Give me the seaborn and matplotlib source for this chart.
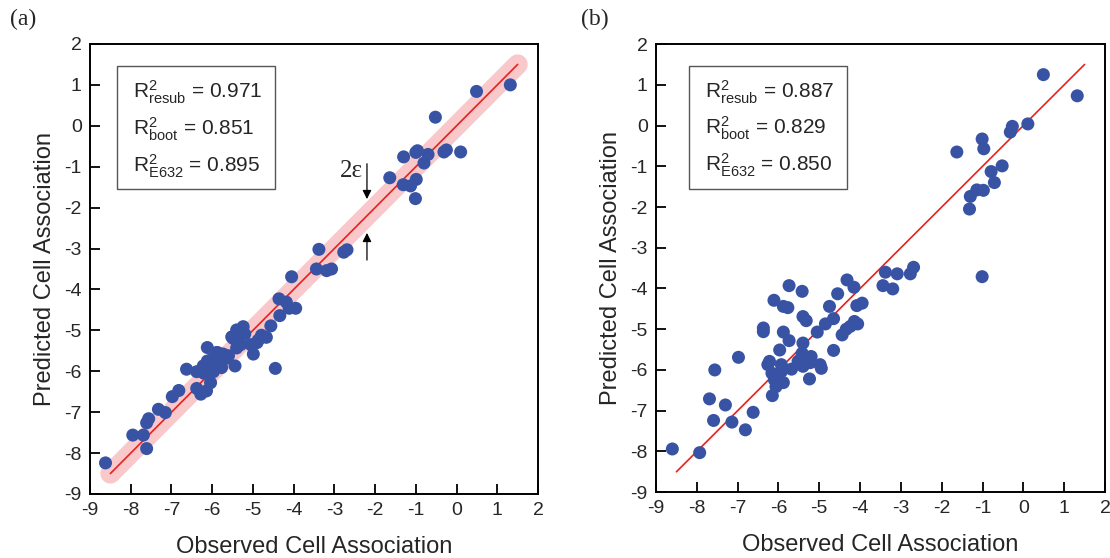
import numpy as np
import pandas as pd
import matplotlib
matplotlib.use("Agg")
import matplotlib.pyplot as plt
import seaborn as sns

# panel (a): observed vs predicted
obs_a = [-8.62, -7.95, -7.69, -7.61, -7.61, -7.56, -7.32, -7.15, -6.98, -6.82,
         -6.63, -6.38, -6.28, -6.14, -6.04, -6.38, -6.22, -6.12, -6.12, -5.97,
         -5.89, -5.77, -5.73, -5.67, -6.06, -5.44, -5.52, -5.40, -5.24, -5.20,
         -5.40, -5.30, -5.05, -4.99, -4.87, -4.79, -4.67, -4.56, -4.45, -4.34,
         -4.36, -4.18, -4.11, -3.95, -4.05, -3.44, -3.38, -3.19, -3.07, -2.77,
         -2.69, -1.64, -1.31, -1.13, -0.99, -1.01, -1.30, -1.00, -0.96, -0.80,
         -0.70, -0.52, -0.31, -0.25, 0.10, 0.49, 1.32,
         -5.85, -5.60, -5.35, -5.48, -4.90, -6.20, -6.00, -5.82]
pred_a = [-8.24, -7.56, -7.56, -7.89, -7.26, -7.16, -6.93, -7.01, -6.62, -6.47,
          -5.95, -6.42, -6.56, -6.48, -6.28, -6.01, -5.87, -5.75, -5.42, -6.01,
          -5.54, -5.91, -5.58, -5.69, -5.83, -5.87, -5.16, -4.99, -4.91, -5.09,
          -5.43, -5.35, -5.35, -5.58, -5.24, -5.12, -5.17, -4.89, -5.93, -4.64,
          -4.23, -4.31, -4.46, -4.46, -3.69, -3.50, -3.02, -3.54, -3.50, -3.09,
          -3.03, -1.27, -1.44, -1.47, -1.31, -1.78, -0.76, -0.65, -0.61, -0.91,
          -0.70, 0.21, -0.64, -0.59, -0.64, 0.84, 1.00,
          -5.55, -5.62, -5.05, -5.20, -5.30, -6.05, -5.70, -5.75]

# panel (b): observed vs predicted
obs_b = [-8.60, -7.93, -7.69, -7.59, -7.56, -7.30, -7.14, -6.98, -6.81, -6.62,
         -6.37, -6.37, -6.26, -6.22, -6.15, -6.11, -6.16, -6.10, -6.06, -5.97,
         -5.93, -5.93, -5.88, -5.88, -5.88, -5.77, -5.74, -5.74, -5.68, -5.52,
         -5.42, -5.40, -5.32, -5.40, -5.42, -5.40, -5.32, -5.24, -5.20, -5.22,
         -5.05, -4.98, -4.95, -4.85, -4.75, -4.65, -4.65, -4.55, -4.44, -4.34,
         -4.32, -4.24, -4.15, -4.14, -4.06, -4.08, -3.95, -3.44, -3.38, -3.20,
         -3.09, -2.77, -2.69, -1.63, -1.32, -1.30, -1.14, -0.98, -1.01, -0.97,
         -1.01, -0.79, -0.71, -0.52, -0.32, -0.27, 0.11, 0.49, 1.32,
         -6.02, -5.98, -5.47, -5.35]
pred_b = [-7.94, -8.03, -6.71, -7.24, -6.00, -6.86, -7.28, -5.69, -7.47, -7.04,
          -4.97, -5.06, -5.87, -5.79, -6.63, -4.29, -6.08, -6.24, -6.41, -5.51,
          -5.87, -6.04, -6.31, -5.07, -4.44, -4.47, -3.93, -5.28, -5.98, -5.79,
          -4.07, -4.69, -4.79, -5.34, -5.59, -5.91, -5.75, -6.22, -5.67, -5.82,
          -5.07, -5.87, -5.96, -4.87, -4.44, -4.74, -5.52, -4.13, -5.14, -5.00,
          -3.79, -4.93, -3.97, -4.81, -4.87, -4.42, -4.36, -3.93, -3.60, -4.01,
          -3.64, -3.64, -3.48, -0.65, -2.05, -1.74, -1.58, -1.59, -0.33, -0.57,
          -3.71, -1.13, -1.40, -0.99, -0.16, -0.02, 0.04, 1.25, 0.73,
          -6.15, -6.30, -5.75, -5.85]

labels_a = ["0.971", "0.851", "0.895"]
labels_b = ["0.887", "0.829", "0.850"]
subs = ["resub", "boot", "E632"]
ticks = list(range(-9, 3))

sns.set_style("ticks")
plt.rcParams["font.family"] = ["Liberation Sans", "DejaVu Sans"]
plt.rcParams["mathtext.fontset"] = "custom"
plt.rcParams["mathtext.rm"] = "Liberation Sans"
plt.rcParams["mathtext.it"] = "Liberation Sans"
plt.rcParams["axes.unicode_minus"] = False

dot = "#3953a4"
serif = ["Liberation Serif", "DejaVu Serif"]

fig = plt.figure(figsize=(11.1, 5.58), dpi=100)
ax_a = fig.add_axes([0.0811, 0.1147, 0.4036, 0.8065])
ax_b = fig.add_axes([0.591, 0.118, 0.4045, 0.803])

for ax, xs, ys, vals, tag in [(ax_a, obs_a, pred_a, labels_a, "(a)"),
                              (ax_b, obs_b, pred_b, labels_b, "(b)")]:
    if tag == "(a)":
        ax.plot([-8.5, 1.5], [-8.5, 1.5], color="#f8c8cb", lw=14.5,
                solid_capstyle="round", zorder=1)
    ax.plot([-8.5, 1.5], [-8.5, 1.5], color="#e8211d", lw=1.2, zorder=2)
    df = pd.DataFrame({"obs": xs, "pred": ys})
    sns.scatterplot(data=df, x="obs", y="pred", ax=ax, s=88, color=dot,
                    edgecolor="none", linewidth=0, zorder=3)
    ax.set_xlim(-9, 2)
    ax.set_ylim(-9, 2)
    ax.set_xticks(ticks)
    ax.set_yticks(ticks)
    ax.tick_params(direction="in", length=7, width=1.3, labelsize=14,
                   color="black", pad=6)
    for sp in ax.spines.values():
        sp.set_linewidth(1.4)
        sp.set_color("black")
    ax.set_xlabel("Observed Cell Association", fontsize=17, labelpad=12)
    ax.set_ylabel("Predicted Cell Association", fontsize=17, labelpad=6)

    # R^2 box
    bx0 = 0.06 if tag == "(a)" else 0.073
    ax.add_patch(plt.Rectangle((bx0, 0.677), 0.352, 0.275, transform=ax.transAxes,
                               fill=False, edgecolor="#555555", lw=1.0, zorder=4))
    for i, (s, v) in enumerate(zip(subs, vals)):
        yy = 0.893 - i * 0.082
        ax.text(bx0 + 0.036, yy, r"$\mathregular{R^2_{%s}}$ = %s" % (s, v),
                transform=ax.transAxes, fontsize=15, va="center", ha="left")

# 2 epsilon annotation on panel (a)
ax_a.annotate("", xy=(-2.2, -1.86), xytext=(-2.2, -0.86),
              arrowprops=dict(arrowstyle="-|>", color="black", lw=0.9,
                              mutation_scale=13))
ax_a.annotate("", xy=(-2.2, -2.55), xytext=(-2.2, -3.35),
              arrowprops=dict(arrowstyle="-|>", color="black", lw=0.9,
                              mutation_scale=13))
ax_a.text(-2.3, -1.1, "2ε", fontsize=18, ha="right", va="center", family=serif)

fig.text(0.009, 0.955, "(a)", fontsize=17, family=serif)
fig.text(0.523, 0.955, "(b)", fontsize=17, family=serif)

fig.savefig("out.png", dpi=100)
